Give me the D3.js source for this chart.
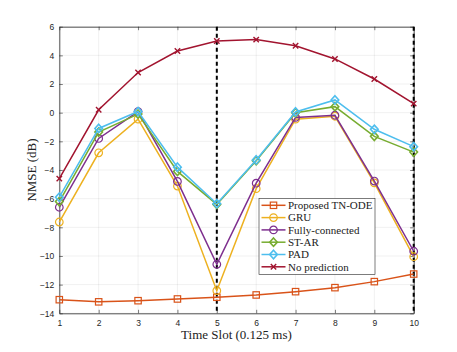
<!DOCTYPE html>
<html>
<head>
<meta charset="utf-8">
<script src="https://cdn.jsdelivr.net/npm/d3@7"></script>
<style>
  body { margin:0; background:#fff; }
  svg { display:block; }
  .tick text { font-family:"Liberation Sans", Arial, sans-serif; font-size:8.5px; fill:#262626; }
  .lbl { font-family:"Liberation Serif", "DejaVu Serif", serif; fill:#222; }
</style>
</head>
<body>
<svg id="chart" width="457" height="352"></svg>
<script>
// time slots and NMSE values (dB)
const slots = [1,2,3,4,5,6,7,8,9,10];
const tnOde   = [-13.05,-13.2,-13.12,-13.0,-12.88,-12.72,-12.49,-12.21,-11.79,-11.26];
const gru     = [-7.63,-2.8,-0.45,-5.12,-12.42,-5.3,-0.45,-0.25,-4.9,-10.05];
const fullyC  = [-6.6,-1.8,0.08,-4.8,-10.58,-4.92,-0.33,-0.18,-4.77,-9.67];
const stAr    = [-6.2,-1.35,-0.1,-4.1,-6.4,-3.35,0.0,0.42,-1.65,-2.75];
const pad     = [-5.9,-1.1,0.08,-3.8,-6.35,-3.3,0.05,0.89,-1.16,-2.37];
const noPred  = [-4.6,0.2,2.8,4.3,5.0,5.1,4.67,3.75,2.35,0.63];
const yTicks = [-14,-12,-10,-8,-6,-4,-2,0,2,4,6];
const markSlots = [5,10];

const series = [
  {name:'Proposed TN-ODE', vals:tnOde,  color:'#D95319', mark:'square'},
  {name:'GRU',             vals:gru,    color:'#EDB120', mark:'circle'},
  {name:'Fully-connected', vals:fullyC, color:'#7E2F8E', mark:'circle'},
  {name:'ST-AR',           vals:stAr,   color:'#77AC30', mark:'diamond'},
  {name:'PAD',             vals:pad,    color:'#4DBEEE', mark:'diamond'},
  {name:'No prediction',   vals:noPred, color:'#A2142F', mark:'cross'}
];

const svg = d3.select('#chart');
const L=59.3, R=413.7, T=26.7, B=313.3;
const x = d3.scaleLinear().domain([1,10]).range([L,R]);
const y = d3.scaleLinear().domain([-14,6]).range([B,T]);

// grid
const grid = svg.append('g');
grid.selectAll('line.gx').data(slots).join('line')
  .attr('x1',d=>x(d)).attr('x2',d=>x(d)).attr('y1',T).attr('y2',B)
  .attr('stroke','#000').attr('stroke-opacity',0.1).attr('stroke-width',0.6);
grid.selectAll('line.gy').data(yTicks).join('line')
  .attr('x1',L).attr('x2',R).attr('y1',d=>y(d)).attr('y2',d=>y(d))
  .attr('stroke','#000').attr('stroke-opacity',0.1).attr('stroke-width',0.6);

// axes (ticks pointing inward, like MATLAB)
const ax = svg.append('g').attr('transform',`translate(0,${B})`)
  .call(d3.axisBottom(x).tickValues(slots).tickFormat(d3.format('d')).tickSizeInner(-3.5).tickSizeOuter(0).tickPadding(7));
const ay = svg.append('g').attr('transform',`translate(${L},0)`)
  .call(d3.axisLeft(y).tickValues(yTicks).tickSizeInner(-3.5).tickSizeOuter(0).tickPadding(5));
const axTop = svg.append('g').attr('transform',`translate(0,${T})`)
  .call(d3.axisTop(x).tickValues(slots).tickFormat('').tickSizeInner(-3.5).tickSizeOuter(0));
const ayRight = svg.append('g').attr('transform',`translate(${R},0)`)
  .call(d3.axisRight(y).tickValues(yTicks).tickFormat('').tickSizeInner(-3.5).tickSizeOuter(0));
[ax,ay,axTop,ayRight].forEach(g=>{
  g.selectAll('path.domain').attr('stroke','#262626').attr('stroke-width',0.8);
  g.selectAll('.tick line').attr('stroke','#262626').attr('stroke-width',0.6);
});

// dashed vertical markers
svg.selectAll('line.vmark').data(markSlots).join('line')
  .attr('x1',d=>x(d)).attr('x2',d=>x(d)).attr('y1',T).attr('y2',B)
  .attr('stroke','#000').attr('stroke-width',2).attr('stroke-dasharray','4,3');

function drawMarker(g, type, color){
  const s = 3.2;
  if (type==='square') g.append('rect').attr('x',-s).attr('y',-s).attr('width',2*s).attr('height',2*s)
      .attr('fill','none').attr('stroke',color).attr('stroke-width',1.2);
  else if (type==='circle') g.append('circle').attr('r',s+0.6).attr('fill','none').attr('stroke',color).attr('stroke-width',1.2);
  else if (type==='diamond') g.append('path').attr('d',`M0,${-s-1}L${s+0.6},0L0,${s+1}L${-s-0.6},0Z`)
      .attr('fill','none').attr('stroke',color).attr('stroke-width',1.6);
  else g.append('path').attr('d',`M${-s+0.5},${-s+0.5}L${s-0.5},${s-0.5}M${-s+0.5},${s-0.5}L${s-0.5},${-s+0.5}`)
      .attr('stroke',color).attr('stroke-width',1.4);
}

const line = d3.line().x((d,i)=>x(slots[i])).y(d=>y(d));
series.forEach(s=>{
  const g = svg.append('g');
  g.append('path').attr('d',line(s.vals)).attr('fill','none').attr('stroke',s.color).attr('stroke-width',1.5);
  s.vals.forEach((v,i)=>{
    drawMarker(g.append('g').attr('transform',`translate(${x(slots[i])},${y(v)})`), s.mark, s.color);
  });
});

// legend
const lg = svg.append('g').attr('transform','translate(259,198.3)');
lg.append('rect').attr('width',116).attr('height',76).attr('fill','#fff').attr('stroke','#262626').attr('stroke-width',0.6);
series.forEach((s,i)=>{
  const yy = 7 + i*12.3;
  const row = lg.append('g').attr('transform',`translate(0,${yy})`);
  row.append('line').attr('x1',2.5).attr('x2',26.5).attr('y1',0).attr('y2',0).attr('stroke',s.color).attr('stroke-width',1.5);
  drawMarker(row.append('g').attr('transform','translate(14.5,0)'), s.mark, s.color);
  row.append('text').attr('class','lbl').attr('x',29).attr('y',3.8).attr('font-size',11).text(s.name);
});

// axis labels
svg.append('text').attr('class','lbl').attr('x',(L+R)/2).attr('y',339).attr('text-anchor','middle')
  .attr('font-size',13).text('Time Slot (0.125 ms)');
svg.append('text').attr('class','lbl').attr('transform',`translate(36,${(T+B)/2}) rotate(-90)`)
  .attr('text-anchor','middle').attr('font-size',13).text('NMSE (dB)');
</script>
</body>
</html>
